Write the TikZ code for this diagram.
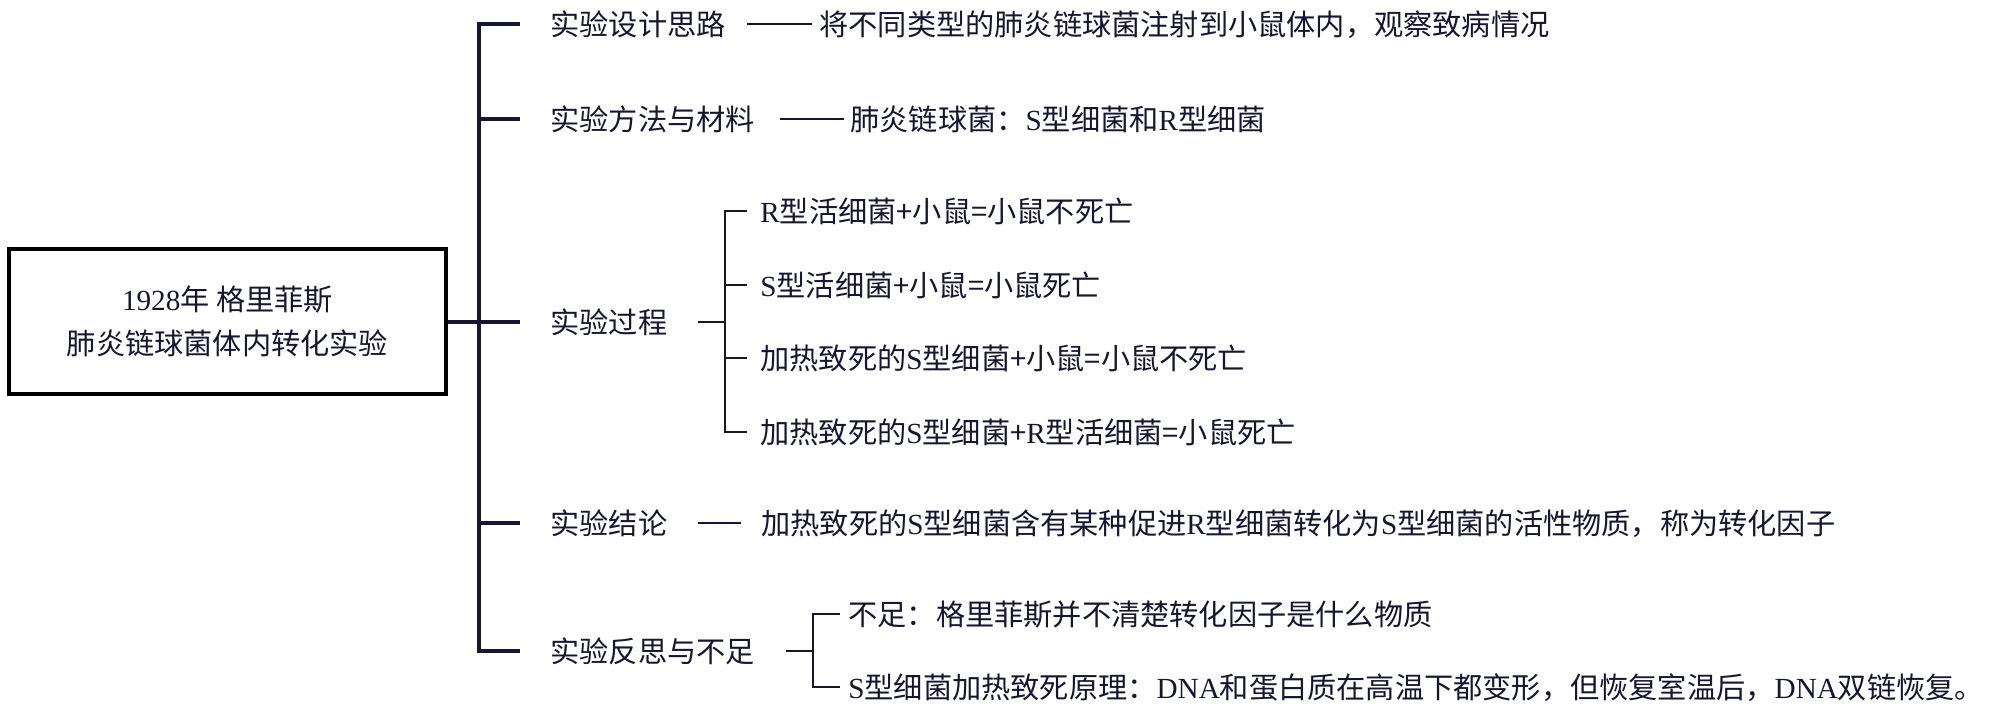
\documentclass[tikz,border=0pt]{standalone}
\usepackage{fontspec}
\setmainfont{Noto Sans CJK SC}
\newfontfamily\latf{Liberation Serif}
\newcommand\la[1]{{\latf #1}}
\usetikzlibrary{calc}
\definecolor{navy}{RGB}{22,22,52}
\begin{document}
\begin{tikzpicture}[x=0.5pt,y=-0.5pt,
  txt/.style={anchor=west,inner sep=0pt,text height=1.1em,text depth=0em,text=navy,font=\fontsize{14.6pt}{18pt}\selectfont},
  trunk/.style={draw=navy,line width=2pt,line join=miter},
  twig/.style={draw=navy,line width=1.3pt,line join=miter},
  rootbox/.style={draw=black,line width=2pt,minimum width=218.5pt,minimum height=72.5pt,align=center,text=navy,font=\fontsize{14.6pt}{22pt}\selectfont,inner sep=0pt}]
\useasboundingbox (0,0) rectangle (2000,719);
\node[rootbox] (root) at (227.5,321.5) {\raisebox{-4.5pt}{\parbox{200pt}{\centering\la{1928}年 格里菲斯\\肺炎链球菌体内转化实验}}};
% level 1
\node[txt] (l1) at (550,24) {实验设计思路};
\node[txt] (l2) at (550,119) {实验方法与材料};
\node[txt] (l3) at (550,322) {实验过程};
\node[txt] (l4) at (550,523) {实验结论};
\node[txt] (l5) at (550,651) {实验反思与不足};
\coordinate (t) at (479,322);
\draw[trunk] (root.east) -- (root.east -| t);
\draw[trunk] ($(l1.west)+(-30,0)$) -- (t |- l1.west) -- (t |- l5.west) -- ($(l5.west)+(-30,0)$);
\foreach \n in {l2,l3,l4} {\draw[trunk] (t |- \n.west) -- ($(\n.west)+(-30,0)$);}
% level 2
\node[txt] (d1) at (819,24) {将不同类型的肺炎链球菌注射到小鼠体内，观察致病情况};
\draw[twig] ($(l1.east)+(21,0)$) -- ($(d1.west)+(-7,0)$);
\node[txt] (d2) at (850,119) {肺炎链球菌：\la{S}型细菌和\la{R}型细菌};
\draw[twig] ($(l2.east)+(25,0)$) -- ($(d2.west)+(-6,0)$);
% process
\coordinate (b3) at (725,322);
\node[txt] (p1) at (760,211) {\la{R}型活细菌+小鼠=小鼠不死亡};
\node[txt] (p2) at (760,285) {\la{S}型活细菌+小鼠=小鼠死亡};
\node[txt] (p3) at (760,358) {加热致死的\la{S}型细菌+小鼠=小鼠不死亡};
\node[txt] (p4) at (760,432) {加热致死的\la{S}型细菌+\la{R}型活细菌=小鼠死亡};
\draw[twig] ($(l3.east)+(30,0)$) -- (b3);
\draw[twig] ($(p1.west)+(-13,0)$) -- (b3 |- p1.west) -- (b3 |- p4.west) -- ($(p4.west)+(-13,0)$);
\foreach \n in {p2,p3} {\draw[twig] (b3 |- \n.west) -- ($(\n.west)+(-13,0)$);}
% conclusion
\node[txt] (c1) at (761,523) {加热致死的\la{S}型细菌含有某种促进\la{R}型细菌转化为\la{S}型细菌的活性物质，称为转化因子};
\draw[twig] ($(l4.east)+(30,0)$) -- ($(c1.west)+(-20,0)$);
% reflection
\coordinate (b5) at (813,651);
\node[txt] (r1) at (848,614) {不足：格里菲斯并不清楚转化因子是什么物质};
\node[txt] (r2) at (848,687) {\la{S}型细菌加热致死原理：\la{DNA}和蛋白质在高温下都变形，但恢复室温后，\la{DNA}双链恢复。};
\draw[twig] ($(l5.east)+(31,0)$) -- (b5);
\draw[twig] ($(r1.west)+(-8,0)$) -- (b5 |- r1.west) -- (b5 |- r2.west) -- ($(r2.west)+(-8,0)$);
\end{tikzpicture}
\end{document}
